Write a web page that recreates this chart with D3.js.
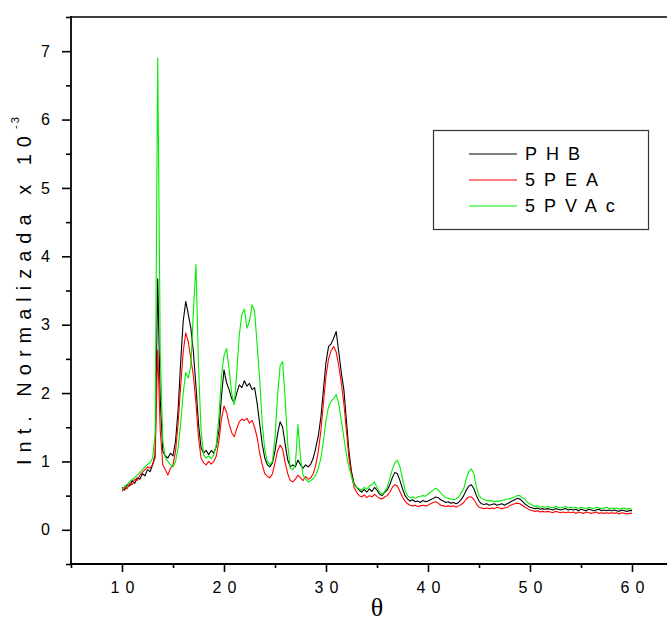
<!DOCTYPE html>
<html>
<head>
<meta charset="utf-8">
<script src="https://cdn.jsdelivr.net/npm/d3@7"></script>
<style>
  body { margin: 0; background: #fff; }
  svg { display: block; font-family: "Liberation Sans", Arial, sans-serif; }
</style>
</head>
<body>
<div id="chart"></div>
<script>
// 2-theta sampling positions (every 0.25 deg)
const theta = [
  10, 10.25, 10.5, 10.75, 11, 11.25, 11.5, 11.75,
  12, 12.25, 12.5, 12.75, 13, 13.25, 13.5, 13.75,
  14, 14.25, 14.5, 14.75, 15, 15.25, 15.5, 15.75,
  16, 16.25, 16.5, 16.75, 17, 17.25, 17.5, 17.75,
  18, 18.25, 18.5, 18.75, 19, 19.25, 19.5, 19.75,
  20, 20.25, 20.5, 20.75, 21, 21.25, 21.5, 21.75,
  22, 22.25, 22.5, 22.75, 23, 23.25, 23.5, 23.75,
  24, 24.25, 24.5, 24.75, 25, 25.25, 25.5, 25.75,
  26, 26.25, 26.5, 26.75, 27, 27.25, 27.5, 27.75,
  28, 28.25, 28.5, 28.75, 29, 29.25, 29.5, 29.75,
  30, 30.25, 30.5, 30.75, 31, 31.25, 31.5, 31.75,
  32, 32.25, 32.5, 32.75, 33, 33.25, 33.5, 33.75,
  34, 34.25, 34.5, 34.75, 35, 35.25, 35.5, 35.75,
  36, 36.25, 36.5, 36.75, 37, 37.25, 37.5, 37.75,
  38, 38.25, 38.5, 38.75, 39, 39.25, 39.5, 39.75,
  40, 40.25, 40.5, 40.75, 41, 41.25, 41.5, 41.75,
  42, 42.25, 42.5, 42.75, 43, 43.25, 43.5, 43.75,
  44, 44.25, 44.5, 44.75, 45, 45.25, 45.5, 45.75,
  46, 46.25, 46.5, 46.75, 47, 47.25, 47.5, 47.75,
  48, 48.25, 48.5, 48.75, 49, 49.25, 49.5, 49.75,
  50, 50.25, 50.5, 50.75, 51, 51.25, 51.5, 51.75,
  52, 52.25, 52.5, 52.75, 53, 53.25, 53.5, 53.75,
  54, 54.25, 54.5, 54.75, 55, 55.25, 55.5, 55.75,
  56, 56.25, 56.5, 56.75, 57, 57.25, 57.5, 57.75,
  58, 58.25, 58.5, 58.75, 59, 59.25, 59.5, 59.75,
  60
];

const phb = [
  0.62, 0.58, 0.66, 0.64, 0.72, 0.68, 0.76, 0.74,
  0.82, 0.79, 0.88, 0.85, 0.95, 1.10, 3.67, 1.90,
  1.15, 1.08, 1.05, 1.12, 1.08, 1.30, 1.75, 2.45,
  3.05, 3.34, 3.15, 2.95, 2.60, 2.10, 1.55, 1.20,
  1.12, 1.16, 1.10, 1.16, 1.12, 1.22, 1.45, 1.95,
  2.34, 2.15, 2.05, 1.92, 1.86, 2.00, 2.12, 2.08,
  2.18, 2.10, 2.14, 2.05, 2.08, 1.85, 1.55, 1.25,
  1.05, 0.95, 0.92, 0.98, 1.15, 1.40, 1.58, 1.50,
  1.25, 1.02, 0.92, 0.95, 0.92, 1.02, 0.95, 0.90,
  0.95, 0.92, 0.96, 1.05, 1.20, 1.38, 1.65, 2.05,
  2.45, 2.68, 2.72, 2.80, 2.90, 2.60, 2.30, 2.05,
  1.60, 1.15, 0.85, 0.68, 0.62, 0.58, 0.55, 0.59,
  0.55, 0.60, 0.56, 0.62, 0.58, 0.52, 0.50, 0.55,
  0.58, 0.66, 0.76, 0.84, 0.82, 0.72, 0.60, 0.50,
  0.45, 0.42, 0.44, 0.41, 0.42, 0.40, 0.43, 0.41,
  0.42, 0.44, 0.46, 0.48, 0.47, 0.44, 0.42, 0.40,
  0.41, 0.39, 0.40, 0.38, 0.40, 0.44, 0.50, 0.58,
  0.64, 0.66, 0.60, 0.50, 0.42, 0.38, 0.37, 0.38,
  0.36, 0.37, 0.38, 0.36, 0.37, 0.38, 0.36, 0.38,
  0.40, 0.42, 0.44, 0.46, 0.45, 0.42, 0.38, 0.35,
  0.33, 0.32, 0.31, 0.32, 0.30, 0.31, 0.30, 0.31,
  0.30, 0.29, 0.31, 0.30, 0.29, 0.30, 0.31, 0.29,
  0.30, 0.29, 0.30, 0.28, 0.30, 0.29, 0.28, 0.30,
  0.29, 0.28, 0.29, 0.30, 0.28, 0.29, 0.28, 0.29,
  0.28, 0.29, 0.28, 0.27, 0.29, 0.28, 0.27, 0.28,
  0.28
];

const pea5 = [
  0.56, 0.62, 0.60, 0.68, 0.66, 0.74, 0.72, 0.80,
  0.84, 0.88, 0.92, 0.90, 0.96, 1.05, 2.63, 1.45,
  0.95, 0.88, 0.80, 0.90, 0.95, 1.15, 1.55, 2.10,
  2.60, 2.88, 2.75, 2.50, 2.25, 1.85, 1.35, 1.05,
  0.98, 0.95, 1.00, 0.96, 1.00, 1.08, 1.30, 1.62,
  1.81, 1.72, 1.55, 1.42, 1.36, 1.48, 1.58, 1.62,
  1.60, 1.63, 1.56, 1.60, 1.50, 1.35, 1.12, 0.95,
  0.82, 0.78, 0.76, 0.82, 0.98, 1.15, 1.24, 1.18,
  0.98, 0.82, 0.72, 0.70, 0.74, 0.80, 0.76, 0.72,
  0.78, 0.74, 0.76, 0.82, 0.95, 1.15, 1.45, 1.85,
  2.25, 2.50, 2.62, 2.68, 2.60, 2.40, 2.15, 1.85,
  1.45, 1.05, 0.80, 0.62, 0.55, 0.50, 0.48, 0.51,
  0.47, 0.50, 0.48, 0.52, 0.49, 0.46, 0.45, 0.48,
  0.50, 0.55, 0.62, 0.66, 0.64, 0.56, 0.48, 0.42,
  0.38, 0.36, 0.35, 0.36, 0.34, 0.35, 0.36, 0.35,
  0.36, 0.38, 0.40, 0.41, 0.39, 0.36, 0.35, 0.34,
  0.35, 0.34, 0.35, 0.33, 0.35, 0.37, 0.40, 0.45,
  0.48, 0.48, 0.44, 0.38, 0.33, 0.32, 0.31, 0.32,
  0.31, 0.32, 0.31, 0.33, 0.32, 0.31, 0.32, 0.33,
  0.35, 0.37, 0.38, 0.39, 0.38, 0.36, 0.33, 0.31,
  0.29, 0.28, 0.27, 0.28, 0.26, 0.27, 0.26, 0.27,
  0.26, 0.25, 0.27, 0.26, 0.25, 0.26, 0.25, 0.26,
  0.25, 0.26, 0.24, 0.26, 0.25, 0.24, 0.26, 0.25,
  0.24, 0.25, 0.26, 0.24, 0.25, 0.24, 0.25, 0.24,
  0.25, 0.24, 0.25, 0.23, 0.25, 0.24, 0.23, 0.24,
  0.24
];

const pvac5 = [
  0.58, 0.64, 0.66, 0.70, 0.74, 0.76, 0.80, 0.84,
  0.88, 0.92, 0.96, 0.98, 1.05, 1.40, 6.90, 2.60,
  1.30, 1.05, 1.00, 0.95, 0.92, 1.00, 1.20, 1.55,
  2.00, 2.30, 2.22, 2.40, 3.20, 3.88, 2.40, 1.45,
  1.10, 1.05, 1.08, 1.04, 1.10, 1.25, 1.65, 2.25,
  2.55, 2.65, 2.35, 2.00, 1.83, 2.30, 2.85, 3.15,
  3.23, 2.95, 3.05, 3.29, 3.20, 2.70, 2.20, 1.55,
  1.17, 1.00, 0.95, 1.00, 1.35, 1.95, 2.40, 2.46,
  1.90, 1.25, 0.90, 0.88, 0.95, 1.54, 1.05, 0.80,
  0.74, 0.70, 0.72, 0.75, 0.80, 0.90, 1.05, 1.30,
  1.60, 1.80, 1.88, 1.92, 1.98, 1.85, 1.60, 1.35,
  1.10, 0.92, 0.78, 0.66, 0.62, 0.60, 0.58, 0.62,
  0.60, 0.64, 0.66, 0.70, 0.62, 0.56, 0.52, 0.56,
  0.62, 0.75, 0.88, 0.98, 1.02, 0.92, 0.75, 0.58,
  0.50, 0.47, 0.48, 0.46, 0.48, 0.49, 0.50, 0.49,
  0.52, 0.55, 0.58, 0.61, 0.58, 0.54, 0.50, 0.47,
  0.46, 0.45, 0.44, 0.45, 0.48, 0.54, 0.60, 0.75,
  0.85, 0.89, 0.82, 0.62, 0.50, 0.46, 0.44, 0.43,
  0.42, 0.43, 0.41, 0.42, 0.42, 0.43, 0.44, 0.45,
  0.45, 0.47, 0.48, 0.50, 0.50, 0.47, 0.45, 0.40,
  0.38, 0.36, 0.34, 0.35, 0.33, 0.34, 0.33, 0.34,
  0.33, 0.32, 0.34, 0.33, 0.32, 0.33, 0.34, 0.32,
  0.33, 0.32, 0.33, 0.31, 0.33, 0.32, 0.31, 0.33,
  0.32, 0.31, 0.33, 0.32, 0.31, 0.32, 0.33, 0.31,
  0.32, 0.31, 0.32, 0.30, 0.31, 0.32, 0.30, 0.31,
  0.30
];

const seriesNames = ["PHB", "5PEA", "5PVAc"];
const seriesColors = ["#000000", "#ff0000", "#00ee00"];
const xMajorTicks = [10, 20, 30, 40, 50, 60];
const xMinorTicks = [5, 15, 25, 35, 45, 55, 65];
const yMajorTicks = [0, 1, 2, 3, 4, 5, 6, 7];
const yMinorTicks = [-0.5, 0.5, 1.5, 2.5, 3.5, 4.5, 5.5, 6.5, 7.5];

const chartWidth = 667, chartHeight = 621;
const plotLeft = 71, plotTop = 17, plotBottom = 564;

const svg = d3.select("#chart").append("svg")
    .attr("width", chartWidth)
    .attr("height", chartHeight);

const x = d3.scaleLinear().domain([5, 65]).range([plotLeft, plotLeft + 612]);
const y = d3.scaleLinear().domain([-0.5, 7.5]).range([plotBottom, plotTop]);

// curves, PHB first so 5PVAc ends on top
const allSeries = [phb, pea5, pvac5];
const line = d3.line()
    .x((d, i) => x(theta[i]))
    .y(d => y(d));

allSeries.forEach((vals, k) => {
    svg.append("path")
        .datum(vals)
        .attr("fill", "none")
        .attr("stroke", seriesColors[k])
        .attr("stroke-width", 1.1)
        .attr("stroke-linejoin", "round")
        .attr("d", line);
});

// x axis
const xAxisG = svg.append("g").attr("transform", `translate(0,${plotBottom})`);
xAxisG.append("g")
    .call(d3.axisBottom(x).tickValues(xMinorTicks).tickSize(4).tickFormat(""))
    .call(g => g.select(".domain").remove());
xAxisG.append("g")
    .call(d3.axisBottom(x).tickValues(xMajorTicks).tickSize(8).tickPadding(10))
    .call(g => g.select(".domain").remove())
    .selectAll("text")
    .attr("font-size", 16)
    .attr("font-family", "'Liberation Sans', Arial, sans-serif")
    .attr("letter-spacing", 6)
    .attr("dx", 3)
    .attr("fill", "#000");
xAxisG.selectAll("line").attr("stroke", "#000").attr("stroke-width", 1.6);

// y axis
const yAxisG = svg.append("g").attr("transform", `translate(${plotLeft},0)`);
yAxisG.append("g")
    .call(d3.axisLeft(y).tickValues(yMinorTicks).tickSize(5).tickFormat(""))
    .call(g => g.select(".domain").remove());
yAxisG.append("g")
    .call(d3.axisLeft(y).tickValues(yMajorTicks).tickSize(9).tickPadding(12))
    .call(g => g.select(".domain").remove())
    .selectAll("text")
    .attr("font-size", 16)
    .attr("font-family", "'Liberation Sans', Arial, sans-serif")
    .attr("fill", "#000");
yAxisG.selectAll("line").attr("stroke", "#000").attr("stroke-width", 1.6);

// frame lines (left, bottom, top)
svg.append("line").attr("x1", plotLeft).attr("x2", plotLeft).attr("y1", plotTop - 1).attr("y2", plotBottom + 1)
    .attr("stroke", "#000").attr("stroke-width", 1.8);
svg.append("line").attr("x1", plotLeft - 1).attr("x2", chartWidth).attr("y1", plotBottom).attr("y2", plotBottom)
    .attr("stroke", "#000").attr("stroke-width", 1.8);
svg.append("line").attr("x1", plotLeft - 1).attr("x2", chartWidth).attr("y1", plotTop).attr("y2", plotTop)
    .attr("stroke", "#000").attr("stroke-width", 1.6);

// axis titles
svg.append("text")
    .attr("x", x(35))
    .attr("y", 616)
    .attr("text-anchor", "middle")
    .attr("font-family", "'Liberation Serif', 'Times New Roman', serif")
    .attr("font-size", 26)
    .text("θ");

const yTitle = svg.append("text")
    .attr("transform", "translate(31,465) rotate(-90)")
    .attr("font-size", 20)
    .attr("letter-spacing", 7)
    .attr("fill", "#000");
yTitle.append("tspan").text("Int. Normalizada x 10");
yTitle.append("tspan")
    .attr("dy", -12)
    .attr("font-size", 11)
    .attr("letter-spacing", 2)
    .text("-3");

// legend
const legend = svg.append("g");
legend.append("rect")
    .attr("x", 433.5).attr("y", 130.5)
    .attr("width", 215).attr("height", 99)
    .attr("fill", "#fff")
    .attr("stroke", "#333").attr("stroke-width", 1.2);
const legendRows = [154, 180, 206];
seriesNames.forEach((name, k) => {
    legend.append("line")
        .attr("x1", 469).attr("x2", 517)
        .attr("y1", legendRows[k]).attr("y2", legendRows[k])
        .attr("stroke", seriesColors[k]).attr("stroke-width", 1.1);
    legend.append("text")
        .attr("x", 525)
        .attr("y", legendRows[k] + 6)
        .attr("font-size", 18)
        .attr("letter-spacing", 9)
        .attr("fill", "#000")
        .text(name);
});
</script>
</body>
</html>
